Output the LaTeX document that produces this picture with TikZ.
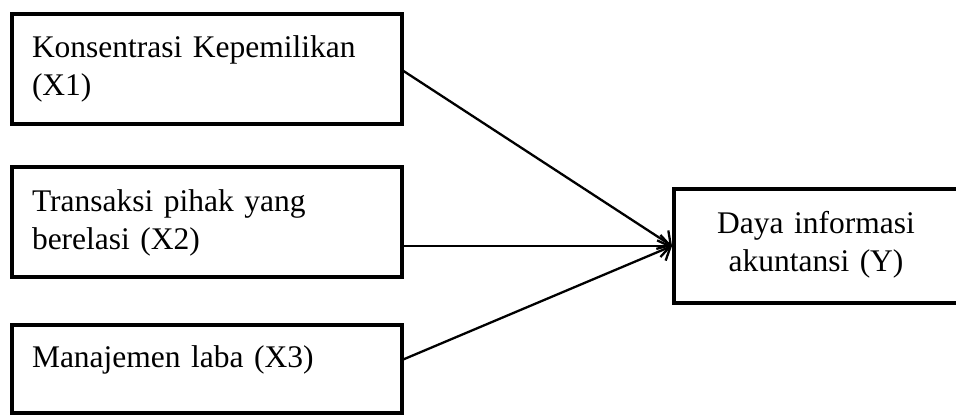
\documentclass[tikz,border=0pt]{standalone}
\usepackage{fontspec}
\setmainfont{Liberation Serif}
\usetikzlibrary{arrows.meta}
\tikzset{
  varbox/.style={draw=black, line width=4pt, rectangle, inner sep=0pt, outer sep=0pt, fill=white},
  lbl/.style={inner sep=0pt, outer sep=0pt, font=\fontsize{31.5}{38.5}\selectfont},
  link/.style={line width=2.3pt, -{Straight Barb[length=10pt,width=22pt,line width=2.3pt]}}
}
\begin{document}
\begin{tikzpicture}[x=1pt,y=-1pt]
\useasboundingbox (0,0) rectangle (956,415);
% boxes
\node[varbox, minimum width=390pt, minimum height=110pt] (X1) at (207,69) {};
\node[varbox, minimum width=390pt, minimum height=110pt] (X2) at (207,222) {};
\node[varbox, minimum width=390pt, minimum height=88pt] (X3) at (207,369) {};
\node[varbox, minimum width=284pt, minimum height=114pt] (Y) at (816,246) {};
% labels
\node[lbl, anchor=base west, text width=370pt, align=left] (t1) at (32,57) {Konsentrasi Kepemilikan\\(X1)};
\node[lbl, anchor=base west, text width=370pt, align=left] (t2) at (32,211) {Transaksi pihak yang\\berelasi (X2)};
\node[lbl, anchor=base west, text width=370pt, align=left] (t3) at (32,367) {Manajemen laba (X3)};
\node[lbl, anchor=base, text width=280pt, align=center] (ty) at (816,233) {Daya informasi\\akuntansi (Y)};
% connectors
\coordinate (s2) at (X2.east |- Y.west);
\coordinate (s3) at ([yshift=9pt]X3.east);
\draw[link] ([yshift=-1pt]X1.east) -- ([xshift=-2pt]Y.west);
\draw[link] (s2) -- ([xshift=-2pt]Y.west);
\draw[link] (s3) -- ([xshift=-2pt]Y.west);
\end{tikzpicture}
\end{document}
